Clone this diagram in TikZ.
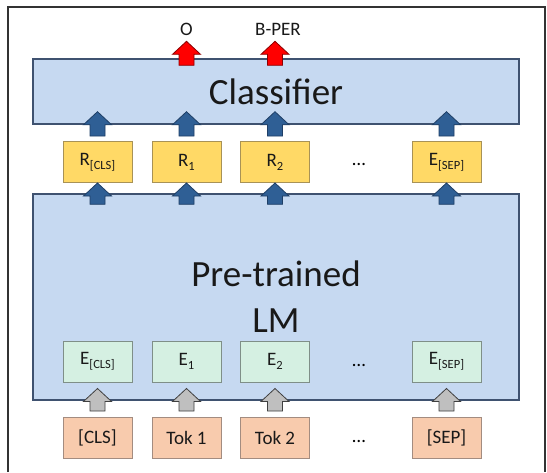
\documentclass[tikz,border=0pt]{standalone}
\usepackage{fontspec}
\setmainfont{Carlito}
\usetikzlibrary{calc}

\definecolor{panelfill}{HTML}{C6D9F1}
\definecolor{paneldraw}{HTML}{3F5270}
\definecolor{repfill}{HTML}{FFD966}
\definecolor{repdraw}{HTML}{A89256}
\definecolor{embfill}{HTML}{D5F0E2}
\definecolor{embdraw}{HTML}{7F8F88}
\definecolor{tokfill}{HTML}{F8CBAD}
\definecolor{tokdraw}{HTML}{A38C80}
\definecolor{arrblue}{HTML}{2F5F95}
\definecolor{arrbluedraw}{HTML}{1F3F66}
\definecolor{arrgray}{HTML}{BFBFBF}
\definecolor{arrgraydraw}{HTML}{404040}
\definecolor{arrred}{HTML}{FF0000}
\definecolor{arrreddraw}{HTML}{8B0000}

% lowered small subscript in the text font
\newcommand\lowsub[1]{\raisebox{-4pt}{\fontsize{12.5}{13}\selectfont #1}}

% block arrow pointing up from #2 (foot) to #3 (tip)
\newcommand\blockarrow[3]{%
  \path[#1] let \p1=(#2), \p2=(#3) in
    (\x1-7.5pt,\y1) -- (\x1-7.5pt,\y2-13pt) -- (\x1-14pt,\y2-13pt) --
    (\x1,\y2) -- (\x1+14pt,\y2-13pt) -- (\x1+7.5pt,\y2-13pt) --
    (\x1+7.5pt,\y1) -- cycle;}

\tikzset{
  panel/.style={draw=paneldraw, line width=1.4pt, fill=panelfill,
    minimum width=486pt, inner sep=0pt, text=black!90},
  cell/.style={line width=1pt, minimum width=69pt, minimum height=41pt,
    inner sep=0pt, text=black!90, font=\fontsize{19}{21}\selectfont},
  repbox/.style={cell, draw=repdraw, fill=repfill},
  embbox/.style={cell, draw=embdraw, fill=embfill},
  tokbox/.style={cell, draw=tokdraw, fill=tokfill},
  dots/.style={font=\fontsize{19}{21}\selectfont},
  bluearrow/.style={fill=arrblue, draw=arrbluedraw, line width=0.8pt},
  grayarrow/.style={fill=arrgray, draw=arrgraydraw, line width=0.8pt},
  redarrow/.style={fill=arrred, draw=arrreddraw, line width=0.8pt},
  outlabel/.style={font=\fontsize{19}{21}\selectfont, text=black!90},
}

\begin{document}
\begin{tikzpicture}[x=1pt, y=-1pt]
  \useasboundingbox (0,0) rectangle (547,472);
  \fill[white] (0,0) rectangle (547,472);
  % outer frame, open at the bottom
  \draw[line width=1.5pt, black!80] (8,472) -- (8,7) -- (545,7) -- (545,472);

  % panels
  \node[panel, minimum height=65pt, font=\fontsize{37}{40}\selectfont]
    (clf) at (276,91.5) {Classifier};
  \node[panel, minimum height=206pt, align=center,
    font=\fontsize{37}{46}\selectfont] (lm) at (276,297) {Pre-trained\\LM};

  % representation row
  \node[repbox] (rcls) at (97.5,162) {R\lowsub{[CLS]}};
  \node[repbox] (r1)   at (186.5,162) {R\lowsub{1}};
  \node[repbox] (r2)   at (275,162) {R\lowsub{2}};
  \node[dots]   (rdots) at (359,164) {…};
  \node[repbox] (rsep) at (446.5,162) {E\lowsub{[SEP]}};

  % embedding row
  \node[embbox] (ecls) at (97.5,361.5) {E\lowsub{[CLS]}};
  \node[embbox] (e1)   at (186.5,361.5) {E\lowsub{1}};
  \node[embbox] (e2)   at (275,361.5) {E\lowsub{2}};
  \node[dots]   (edots) at (359,365) {…};
  \node[embbox] (esep) at (446.5,361.5) {E\lowsub{[SEP]}};

  % token row
  \node[tokbox] (tcls) at (97.5,438) {[CLS]};
  \node[tokbox] (t1)   at (186.5,438) {Tok 1};
  \node[tokbox] (t2)   at (275,438) {Tok 2};
  \node[dots]   (tdots) at (359,441) {…};
  \node[tokbox] (tsep) at (446.5,438) {[SEP]};

  % tokens into embeddings
  \foreach \t/\e in {tcls/ecls, t1/e1, t2/e2, tsep/esep}
    \blockarrow{grayarrow}{$(\t.north)+(0,-6)$}{$(\e.south)+(0,6)$};

  % language model into representations
  \foreach \r in {rcls, r1, r2, rsep}
    \blockarrow{bluearrow}{$(\r.south |- lm.north)+(0,11)$}{\r.south};

  % representations into classifier
  \foreach \r in {rcls, r1, r2, rsep}
    \blockarrow{bluearrow}{$(\r.north)+(0,-5)$}{$(\r.north |- clf.south)+(0,-13)$};

  % classifier outputs
  \blockarrow{redarrow}{$(r1.north |- clf.north)+(0,7)$}{$(r1.north |- clf.north)+(0,-17)$};
  \blockarrow{redarrow}{$(r2.north |- clf.north)+(0,7)$}{$(r2.north |- clf.north)+(0,-17)$};
  \node[outlabel] (lblo) at ($(r1.north |- clf.north)+(0,-29)$) {O};
  \node[outlabel] (lblb) at ($(r2.north |- clf.north)+(3,-29)$) {B-PER};
\end{tikzpicture}
\end{document}
